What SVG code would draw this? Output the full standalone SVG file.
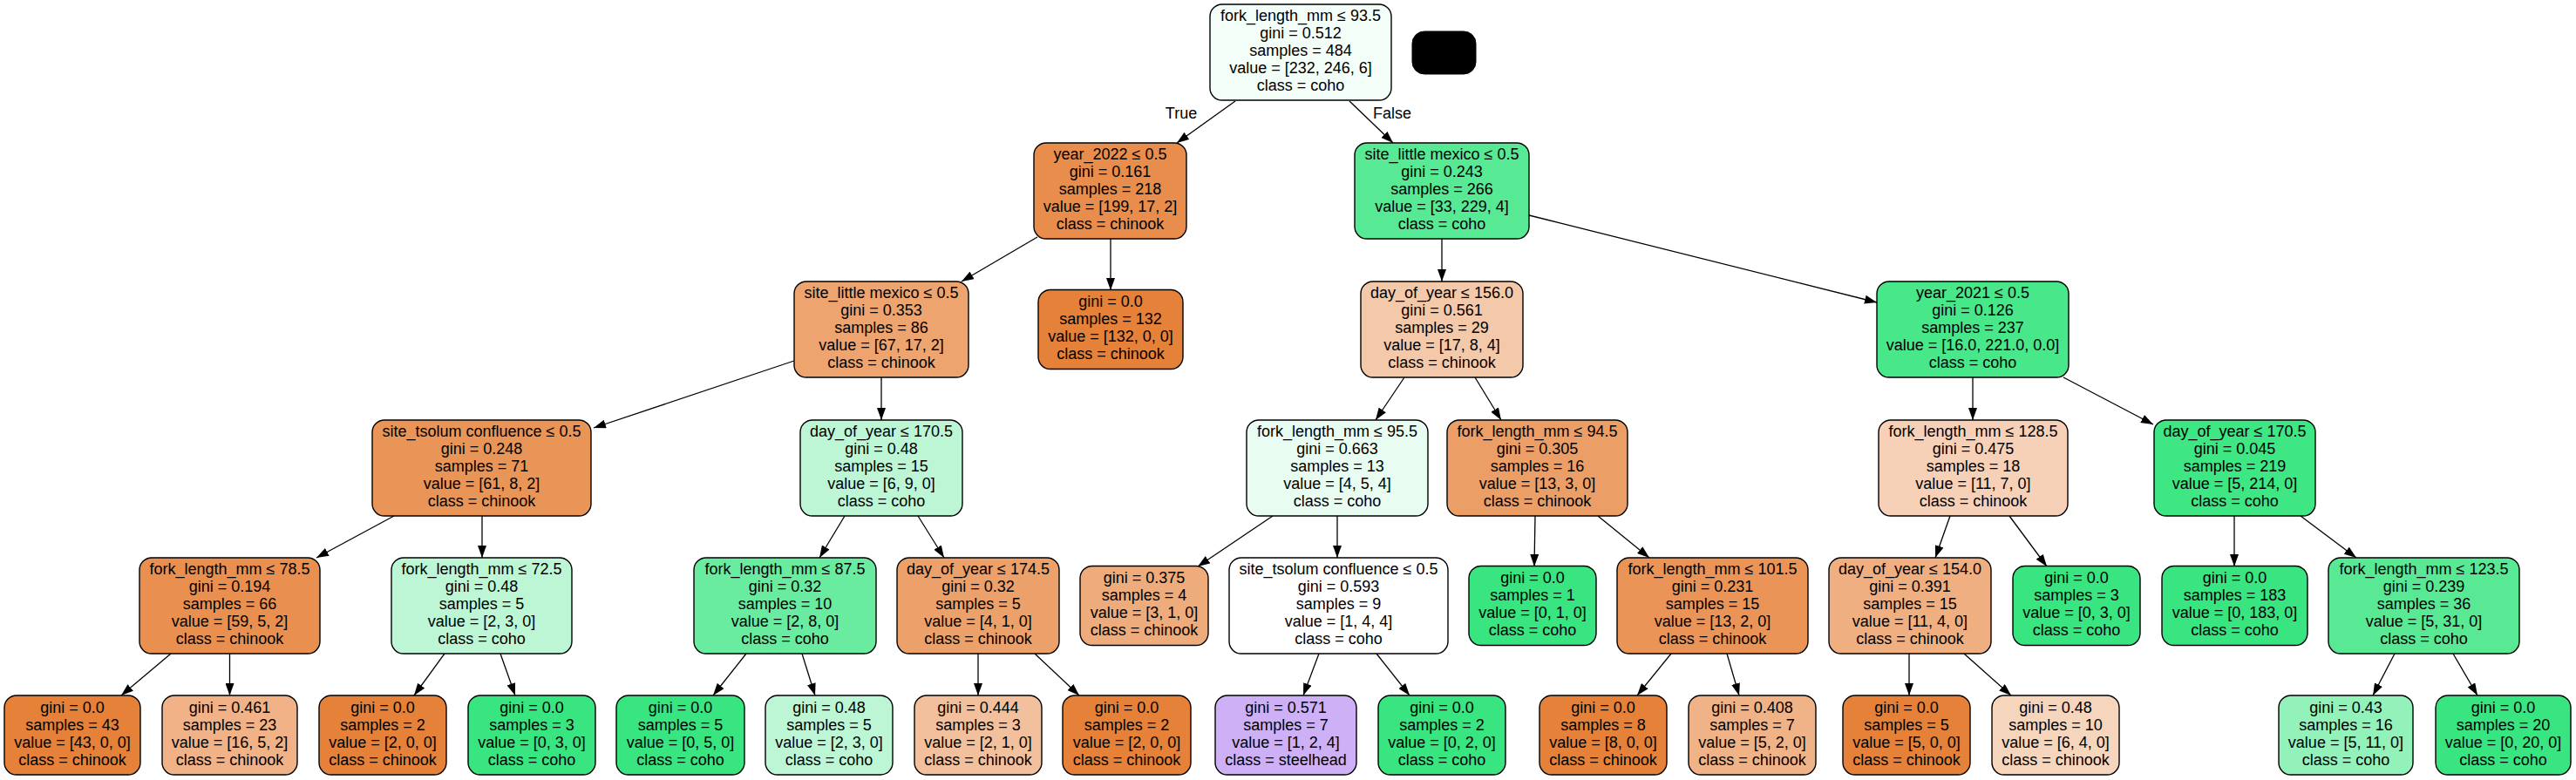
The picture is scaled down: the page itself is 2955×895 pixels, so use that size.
<svg xmlns="http://www.w3.org/2000/svg" width="2955" height="895" viewBox="0 0 2955 895">
<style>
.n{stroke:#000;stroke-width:1.4}
text{font-family:"Liberation Sans",Arial,Helvetica,sans-serif;font-size:18px;text-anchor:middle;fill:#000}
.e{stroke:#000;stroke-width:1.3;fill:none;marker-end:url(#ah)}
</style>
<defs>
<marker id="ah" markerUnits="userSpaceOnUse" markerWidth="14" markerHeight="10" refX="14" refY="5" orient="auto">
<path d="M0,0 L14,5 L0,10 z" fill="#000"/>
</marker>
</defs>
<rect width="2955" height="895" fill="#fff"/>
<g id="connectors">
<line class="e" x1="1417" y1="116" x2="1350" y2="164"/>
<line class="e" x1="1548" y1="116" x2="1598" y2="164"/>
<line class="e" x1="1190" y1="272" x2="1103" y2="323"/>
<line class="e" x1="1274" y1="274" x2="1274" y2="333"/>
<line class="e" x1="911" y1="414" x2="681" y2="491"/>
<line class="e" x1="1011" y1="433" x2="1011" y2="482"/>
<line class="e" x1="452" y1="592" x2="363" y2="640"/>
<line class="e" x1="553" y1="592" x2="553" y2="640"/>
<line class="e" x1="196" y1="750" x2="139" y2="798"/>
<line class="e" x1="263.5" y1="750" x2="263.5" y2="798"/>
<line class="e" x1="510" y1="750" x2="475" y2="798"/>
<line class="e" x1="574" y1="750" x2="591" y2="798"/>
<line class="e" x1="969" y1="592" x2="940" y2="640"/>
<line class="e" x1="1053" y1="592" x2="1083" y2="640"/>
<line class="e" x1="856" y1="750" x2="818" y2="798"/>
<line class="e" x1="920" y1="750" x2="935" y2="798"/>
<line class="e" x1="1122" y1="750" x2="1122" y2="798"/>
<line class="e" x1="1187" y1="750" x2="1238" y2="798"/>
<line class="e" x1="1654" y1="274" x2="1654" y2="323"/>
<line class="e" x1="1754" y1="247" x2="2153" y2="347"/>
<line class="e" x1="1611" y1="433" x2="1578" y2="482"/>
<line class="e" x1="1692" y1="433" x2="1722" y2="482"/>
<line class="e" x1="1460" y1="592" x2="1374" y2="650"/>
<line class="e" x1="1534" y1="592" x2="1534" y2="640"/>
<line class="e" x1="1513" y1="750" x2="1495" y2="798"/>
<line class="e" x1="1579" y1="750" x2="1617" y2="798"/>
<line class="e" x1="1761" y1="592" x2="1760" y2="650"/>
<line class="e" x1="1833" y1="592" x2="1892" y2="640"/>
<line class="e" x1="1917" y1="750" x2="1878" y2="798"/>
<line class="e" x1="1981" y1="750" x2="1995" y2="798"/>
<line class="e" x1="2263" y1="433" x2="2263" y2="482"/>
<line class="e" x1="2367" y1="433" x2="2470" y2="487"/>
<line class="e" x1="2237" y1="592" x2="2220" y2="640"/>
<line class="e" x1="2305" y1="592" x2="2348" y2="650"/>
<line class="e" x1="2190" y1="750" x2="2190" y2="798"/>
<line class="e" x1="2253" y1="750" x2="2307" y2="798"/>
<line class="e" x1="2563" y1="592" x2="2563" y2="650"/>
<line class="e" x1="2639" y1="592" x2="2703" y2="640"/>
<line class="e" x1="2747" y1="750" x2="2722" y2="798"/>
<line class="e" x1="2814" y1="750" x2="2842" y2="798"/>
<text x="1355" y="136">True</text>
<text x="1597" y="136">False</text>
</g>

<g id="node0"><rect class="n" x="1388" y="5" width="208" height="110" rx="14" fill="#f4fef8"/>
<text x="1492" y="24">fork_length_mm ≤ 93.5<tspan x="1492" dy="20">gini = 0.512</tspan><tspan x="1492" dy="20">samples = 484</tspan><tspan x="1492" dy="20">value = [232, 246, 6]</tspan><tspan x="1492" dy="20">class = coho</tspan></text></g>
<g id="legend"><rect x="1620" y="36" width="73" height="49" rx="14" fill="#000" stroke="#000"/></g>

<g id="node1"><rect class="n" x="1186" y="164" width="175" height="110" rx="14" fill="#e88d4c"/>
<text x="1273.5" y="183">year_2022 ≤ 0.5<tspan x="1273.5" dy="20">gini = 0.161</tspan><tspan x="1273.5" dy="20">samples = 218</tspan><tspan x="1273.5" dy="20">value = [199, 17, 2]</tspan><tspan x="1273.5" dy="20">class = chinook</tspan></text></g>
<g id="node22"><rect class="n" x="1554" y="164" width="200" height="110" rx="14" fill="#58e995"/>
<text x="1654" y="183">site_little mexico ≤ 0.5<tspan x="1654" dy="20">gini = 0.243</tspan><tspan x="1654" dy="20">samples = 266</tspan><tspan x="1654" dy="20">value = [33, 229, 4]</tspan><tspan x="1654" dy="20">class = coho</tspan></text></g>

<g id="node2"><rect class="n" x="911" y="323" width="200" height="110" rx="14" fill="#eda46f"/>
<text x="1011" y="342">site_little mexico ≤ 0.5<tspan x="1011" dy="20">gini = 0.353</tspan><tspan x="1011" dy="20">samples = 86</tspan><tspan x="1011" dy="20">value = [67, 17, 2]</tspan><tspan x="1011" dy="20">class = chinook</tspan></text></g>
<g id="node21"><rect class="n" x="1191" y="332.5" width="166" height="91" rx="14" fill="#e58139"/>
<text x="1274" y="352">gini = 0.0<tspan x="1274" dy="20">samples = 132</tspan><tspan x="1274" dy="20">value = [132, 0, 0]</tspan><tspan x="1274" dy="20">class = chinook</tspan></text></g>
<g id="node23"><rect class="n" x="1561" y="323" width="186" height="110" rx="14" fill="#f4c9aa"/>
<text x="1654" y="342">day_of_year ≤ 156.0<tspan x="1654" dy="20">gini = 0.561</tspan><tspan x="1654" dy="20">samples = 29</tspan><tspan x="1654" dy="20">value = [17, 8, 4]</tspan><tspan x="1654" dy="20">class = chinook</tspan></text></g>
<g id="node34"><rect class="n" x="2153" y="323" width="220" height="110" rx="14" fill="#47e78a"/>
<text x="2263" y="342">year_2021 ≤ 0.5<tspan x="2263" dy="20">gini = 0.126</tspan><tspan x="2263" dy="20">samples = 237</tspan><tspan x="2263" dy="20">value = [16.0, 221.0, 0.0]</tspan><tspan x="2263" dy="20">class = coho</tspan></text></g>

<g id="node3"><rect class="n" x="427" y="482" width="251" height="110" rx="14" fill="#ea9558"/>
<text x="552.5" y="501">site_tsolum confluence ≤ 0.5<tspan x="552.5" dy="20">gini = 0.248</tspan><tspan x="552.5" dy="20">samples = 71</tspan><tspan x="552.5" dy="20">value = [61, 8, 2]</tspan><tspan x="552.5" dy="20">class = chinook</tspan></text></g>
<g id="node10"><rect class="n" x="918" y="482" width="186" height="110" rx="14" fill="#bdf6d5"/>
<text x="1011" y="501">day_of_year ≤ 170.5<tspan x="1011" dy="20">gini = 0.48</tspan><tspan x="1011" dy="20">samples = 15</tspan><tspan x="1011" dy="20">value = [6, 9, 0]</tspan><tspan x="1011" dy="20">class = coho</tspan></text></g>
<g id="node24"><rect class="n" x="1430" y="482" width="208" height="110" rx="14" fill="#e9fcf1"/>
<text x="1534" y="501">fork_length_mm ≤ 95.5<tspan x="1534" dy="20">gini = 0.663</tspan><tspan x="1534" dy="20">samples = 13</tspan><tspan x="1534" dy="20">value = [4, 5, 4]</tspan><tspan x="1534" dy="20">class = coho</tspan></text></g>
<g id="node29"><rect class="n" x="1660" y="482" width="207" height="110" rx="14" fill="#ec9e67"/>
<text x="1763.5" y="501">fork_length_mm ≤ 94.5<tspan x="1763.5" dy="20">gini = 0.305</tspan><tspan x="1763.5" dy="20">samples = 16</tspan><tspan x="1763.5" dy="20">value = [13, 3, 0]</tspan><tspan x="1763.5" dy="20">class = chinook</tspan></text></g>
<g id="node35"><rect class="n" x="2155" y="482" width="217" height="110" rx="14" fill="#f6d1b7"/>
<text x="2263.5" y="501">fork_length_mm ≤ 128.5<tspan x="2263.5" dy="20">gini = 0.475</tspan><tspan x="2263.5" dy="20">samples = 18</tspan><tspan x="2263.5" dy="20">value = [11, 7, 0]</tspan><tspan x="2263.5" dy="20">class = chinook</tspan></text></g>
<g id="node40"><rect class="n" x="2471" y="482" width="185" height="110" rx="14" fill="#3ee684"/>
<text x="2563.5" y="501">day_of_year ≤ 170.5<tspan x="2563.5" dy="20">gini = 0.045</tspan><tspan x="2563.5" dy="20">samples = 219</tspan><tspan x="2563.5" dy="20">value = [5, 214, 0]</tspan><tspan x="2563.5" dy="20">class = coho</tspan></text></g>

<g id="node4"><rect class="n" x="160" y="640" width="207" height="110" rx="14" fill="#e99050"/>
<text x="263.5" y="659">fork_length_mm ≤ 78.5<tspan x="263.5" dy="20">gini = 0.194</tspan><tspan x="263.5" dy="20">samples = 66</tspan><tspan x="263.5" dy="20">value = [59, 5, 2]</tspan><tspan x="263.5" dy="20">class = chinook</tspan></text></g>
<g id="node7"><rect class="n" x="449" y="640" width="207" height="110" rx="14" fill="#bdf6d5"/>
<text x="552.5" y="659">fork_length_mm ≤ 72.5<tspan x="552.5" dy="20">gini = 0.48</tspan><tspan x="552.5" dy="20">samples = 5</tspan><tspan x="552.5" dy="20">value = [2, 3, 0]</tspan><tspan x="552.5" dy="20">class = coho</tspan></text></g>
<g id="node11"><rect class="n" x="796" y="640" width="209" height="110" rx="14" fill="#6aeca0"/>
<text x="900.5" y="659">fork_length_mm ≤ 87.5<tspan x="900.5" dy="20">gini = 0.32</tspan><tspan x="900.5" dy="20">samples = 10</tspan><tspan x="900.5" dy="20">value = [2, 8, 0]</tspan><tspan x="900.5" dy="20">class = coho</tspan></text></g>
<g id="node14"><rect class="n" x="1029" y="640" width="186" height="110" rx="14" fill="#eca06a"/>
<text x="1122" y="659">day_of_year ≤ 174.5<tspan x="1122" dy="20">gini = 0.32</tspan><tspan x="1122" dy="20">samples = 5</tspan><tspan x="1122" dy="20">value = [4, 1, 0]</tspan><tspan x="1122" dy="20">class = chinook</tspan></text></g>
<g id="node25"><rect class="n" x="1239" y="649.5" width="147" height="91" rx="14" fill="#eeab7b"/>
<text x="1312.5" y="669">gini = 0.375<tspan x="1312.5" dy="20">samples = 4</tspan><tspan x="1312.5" dy="20">value = [3, 1, 0]</tspan><tspan x="1312.5" dy="20">class = chinook</tspan></text></g>
<g id="node26"><rect class="n" x="1410" y="640" width="251" height="110" rx="14" fill="#ffffff"/>
<text x="1535.5" y="659">site_tsolum confluence ≤ 0.5<tspan x="1535.5" dy="20">gini = 0.593</tspan><tspan x="1535.5" dy="20">samples = 9</tspan><tspan x="1535.5" dy="20">value = [1, 4, 4]</tspan><tspan x="1535.5" dy="20">class = coho</tspan></text></g>
<g id="node30"><rect class="n" x="1685" y="649.5" width="146" height="91" rx="14" fill="#39e581"/>
<text x="1758" y="669">gini = 0.0<tspan x="1758" dy="20">samples = 1</tspan><tspan x="1758" dy="20">value = [0, 1, 0]</tspan><tspan x="1758" dy="20">class = coho</tspan></text></g>
<g id="node31"><rect class="n" x="1855" y="640" width="219" height="110" rx="14" fill="#ea9458"/>
<text x="1964.5" y="659">fork_length_mm ≤ 101.5<tspan x="1964.5" dy="20">gini = 0.231</tspan><tspan x="1964.5" dy="20">samples = 15</tspan><tspan x="1964.5" dy="20">value = [13, 2, 0]</tspan><tspan x="1964.5" dy="20">class = chinook</tspan></text></g>
<g id="node36"><rect class="n" x="2098" y="640" width="186" height="110" rx="14" fill="#efaf81"/>
<text x="2191" y="659">day_of_year ≤ 154.0<tspan x="2191" dy="20">gini = 0.391</tspan><tspan x="2191" dy="20">samples = 15</tspan><tspan x="2191" dy="20">value = [11, 4, 0]</tspan><tspan x="2191" dy="20">class = chinook</tspan></text></g>
<g id="node39"><rect class="n" x="2309" y="649.5" width="146" height="91" rx="14" fill="#39e581"/>
<text x="2382" y="669">gini = 0.0<tspan x="2382" dy="20">samples = 3</tspan><tspan x="2382" dy="20">value = [0, 3, 0]</tspan><tspan x="2382" dy="20">class = coho</tspan></text></g>
<g id="node41"><rect class="n" x="2480" y="649.5" width="167" height="91" rx="14" fill="#39e581"/>
<text x="2563.5" y="669">gini = 0.0<tspan x="2563.5" dy="20">samples = 183</tspan><tspan x="2563.5" dy="20">value = [0, 183, 0]</tspan><tspan x="2563.5" dy="20">class = coho</tspan></text></g>
<g id="node42"><rect class="n" x="2671" y="640" width="219" height="110" rx="14" fill="#59e995"/>
<text x="2780.5" y="659">fork_length_mm ≤ 123.5<tspan x="2780.5" dy="20">gini = 0.239</tspan><tspan x="2780.5" dy="20">samples = 36</tspan><tspan x="2780.5" dy="20">value = [5, 31, 0]</tspan><tspan x="2780.5" dy="20">class = coho</tspan></text></g>

<g id="node5"><rect class="n" x="5" y="798" width="156" height="91" rx="14" fill="#e58139"/>
<text x="83" y="817.5">gini = 0.0<tspan x="83" dy="20">samples = 43</tspan><tspan x="83" dy="20">value = [43, 0, 0]</tspan><tspan x="83" dy="20">class = chinook</tspan></text></g>
<g id="node6"><rect class="n" x="186" y="798" width="155" height="91" rx="14" fill="#f0b286"/>
<text x="263.5" y="817.5">gini = 0.461<tspan x="263.5" dy="20">samples = 23</tspan><tspan x="263.5" dy="20">value = [16, 5, 2]</tspan><tspan x="263.5" dy="20">class = chinook</tspan></text></g>
<g id="node8"><rect class="n" x="366" y="798" width="146" height="91" rx="14" fill="#e58139"/>
<text x="439" y="817.5">gini = 0.0<tspan x="439" dy="20">samples = 2</tspan><tspan x="439" dy="20">value = [2, 0, 0]</tspan><tspan x="439" dy="20">class = chinook</tspan></text></g>
<g id="node9"><rect class="n" x="537" y="798" width="146" height="91" rx="14" fill="#39e581"/>
<text x="610" y="817.5">gini = 0.0<tspan x="610" dy="20">samples = 3</tspan><tspan x="610" dy="20">value = [0, 3, 0]</tspan><tspan x="610" dy="20">class = coho</tspan></text></g>
<g id="node12"><rect class="n" x="707" y="798" width="147" height="91" rx="14" fill="#39e581"/>
<text x="780.5" y="817.5">gini = 0.0<tspan x="780.5" dy="20">samples = 5</tspan><tspan x="780.5" dy="20">value = [0, 5, 0]</tspan><tspan x="780.5" dy="20">class = coho</tspan></text></g>
<g id="node13"><rect class="n" x="878" y="798" width="146" height="91" rx="14" fill="#bdf6d5"/>
<text x="951" y="817.5">gini = 0.48<tspan x="951" dy="20">samples = 5</tspan><tspan x="951" dy="20">value = [2, 3, 0]</tspan><tspan x="951" dy="20">class = coho</tspan></text></g>
<g id="node15"><rect class="n" x="1049" y="798" width="146" height="91" rx="14" fill="#f2c09c"/>
<text x="1122" y="817.5">gini = 0.444<tspan x="1122" dy="20">samples = 3</tspan><tspan x="1122" dy="20">value = [2, 1, 0]</tspan><tspan x="1122" dy="20">class = chinook</tspan></text></g>
<g id="node16"><rect class="n" x="1219" y="798" width="147" height="91" rx="14" fill="#e58139"/>
<text x="1292.5" y="817.5">gini = 0.0<tspan x="1292.5" dy="20">samples = 2</tspan><tspan x="1292.5" dy="20">value = [2, 0, 0]</tspan><tspan x="1292.5" dy="20">class = chinook</tspan></text></g>
<g id="node27"><rect class="n" x="1394" y="798" width="162" height="91" rx="14" fill="#cdb0f5"/>
<text x="1475" y="817.5">gini = 0.571<tspan x="1475" dy="20">samples = 7</tspan><tspan x="1475" dy="20">value = [1, 2, 4]</tspan><tspan x="1475" dy="20">class = steelhead</tspan></text></g>
<g id="node28"><rect class="n" x="1581" y="798" width="146" height="91" rx="14" fill="#39e581"/>
<text x="1654" y="817.5">gini = 0.0<tspan x="1654" dy="20">samples = 2</tspan><tspan x="1654" dy="20">value = [0, 2, 0]</tspan><tspan x="1654" dy="20">class = coho</tspan></text></g>
<g id="node32"><rect class="n" x="1766" y="798" width="146" height="91" rx="14" fill="#e58139"/>
<text x="1839" y="817.5">gini = 0.0<tspan x="1839" dy="20">samples = 8</tspan><tspan x="1839" dy="20">value = [8, 0, 0]</tspan><tspan x="1839" dy="20">class = chinook</tspan></text></g>
<g id="node33"><rect class="n" x="1937" y="798" width="146" height="91" rx="14" fill="#f0b388"/>
<text x="2010" y="817.5">gini = 0.408<tspan x="2010" dy="20">samples = 7</tspan><tspan x="2010" dy="20">value = [5, 2, 0]</tspan><tspan x="2010" dy="20">class = chinook</tspan></text></g>
<g id="node37"><rect class="n" x="2114" y="798" width="146" height="91" rx="14" fill="#e58139"/>
<text x="2187" y="817.5">gini = 0.0<tspan x="2187" dy="20">samples = 5</tspan><tspan x="2187" dy="20">value = [5, 0, 0]</tspan><tspan x="2187" dy="20">class = chinook</tspan></text></g>
<g id="node38"><rect class="n" x="2285" y="798" width="146" height="91" rx="14" fill="#f6d5bd"/>
<text x="2358" y="817.5">gini = 0.48<tspan x="2358" dy="20">samples = 10</tspan><tspan x="2358" dy="20">value = [6, 4, 0]</tspan><tspan x="2358" dy="20">class = chinook</tspan></text></g>
<g id="node43"><rect class="n" x="2614" y="798" width="154" height="91" rx="14" fill="#93f1ba"/>
<text x="2691" y="817.5">gini = 0.43<tspan x="2691" dy="20">samples = 16</tspan><tspan x="2691" dy="20">value = [5, 11, 0]</tspan><tspan x="2691" dy="20">class = coho</tspan></text></g>
<g id="node44"><rect class="n" x="2794" y="798" width="155" height="91" rx="14" fill="#39e581"/>
<text x="2871.5" y="817.5">gini = 0.0<tspan x="2871.5" dy="20">samples = 20</tspan><tspan x="2871.5" dy="20">value = [0, 20, 0]</tspan><tspan x="2871.5" dy="20">class = coho</tspan></text></g>
</svg>
